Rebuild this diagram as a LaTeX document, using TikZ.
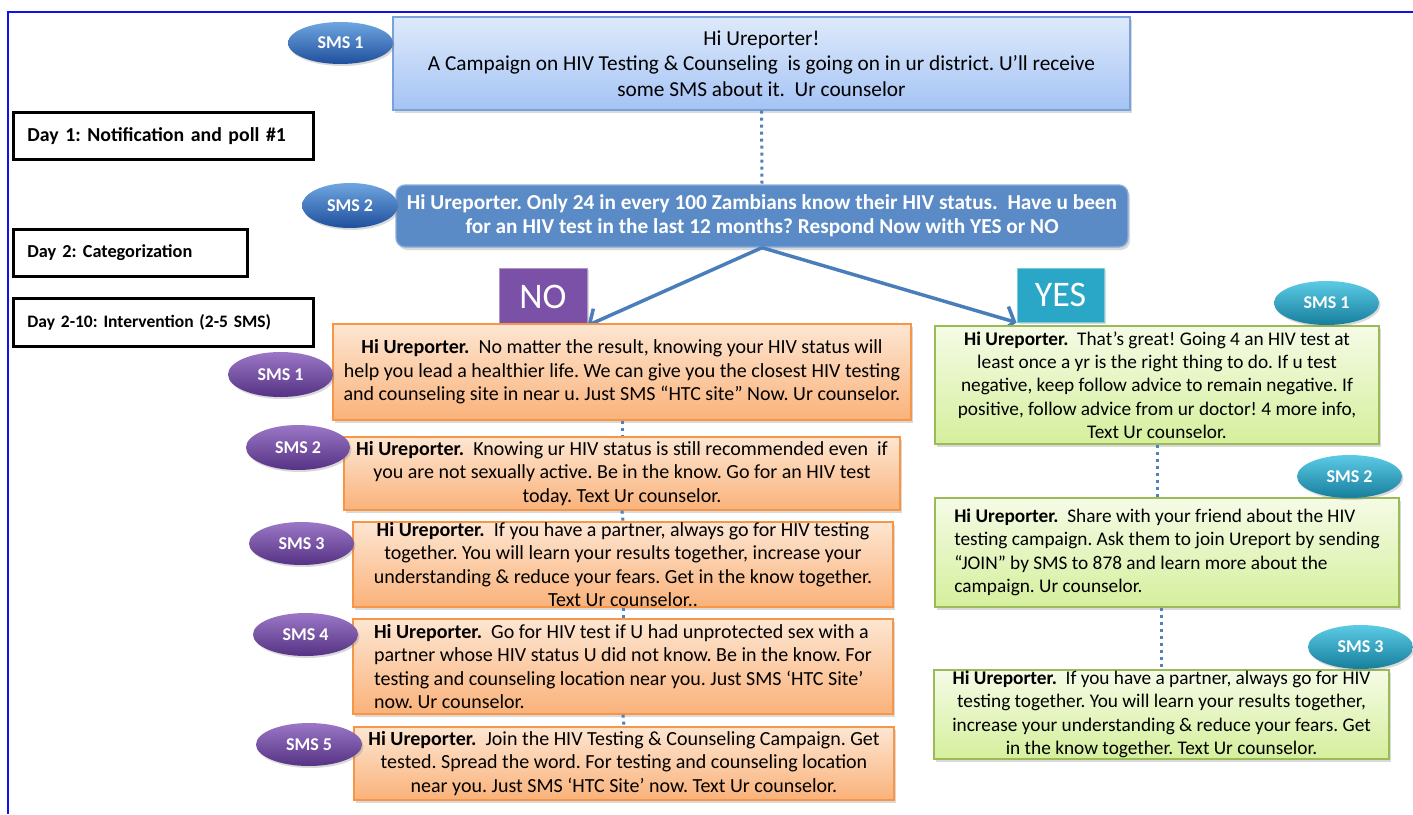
\documentclass[tikz,border=0pt]{standalone}
\usepackage{fontspec}
\setmainfont{Carlito}
\frenchspacing
\usetikzlibrary{shapes.geometric,shadows,arrows.meta}

\definecolor{framecol}{HTML}{1010F0}
\definecolor{introtop}{HTML}{DEEAFB}
\definecolor{introbot}{HTML}{A4C3F4}
\definecolor{introline}{HTML}{7AA2DA}
\definecolor{pollfill}{HTML}{5B8BC6}
\definecolor{pollline}{HTML}{8DAEDA}
\definecolor{orangetop}{HTML}{FDE6D2}
\definecolor{orangebot}{HTML}{FAB27A}
\definecolor{orangeline}{HTML}{F79646}
\definecolor{greentop}{HTML}{F5FBE6}
\definecolor{greenbot}{HTML}{D5EF9C}
\definecolor{greenline}{HTML}{9BBB59}
\definecolor{bluetop}{HTML}{6FA6E0}
\definecolor{bluebot}{HTML}{1F4F9C}
\definecolor{purpletop}{HTML}{9C77C8}
\definecolor{purplebot}{HTML}{553283}
\definecolor{tealtop}{HTML}{5CCBE6}
\definecolor{tealbot}{HTML}{167E9C}
\definecolor{nofill}{HTML}{7B51A7}
\definecolor{yesfill}{HTML}{2AA6C7}
\definecolor{arrowblue}{HTML}{4A7EBB}
\definecolor{dotblue}{HTML}{4F81BD}

\begin{document}
\begin{tikzpicture}[x=1pt,y=-1pt,
    smsbox/.style={draw, line width=1.3pt, inner sep=0pt, align=center,
      drop shadow={shadow xshift=2pt,shadow yshift=-3pt,opacity=0.3}},
    introbox/.style={smsbox, draw=introline, top color=introtop, bottom color=introbot,
      font=\fontsize{21.3}{25.5}\selectfont},
    pollbox/.style={smsbox, draw=pollline, fill=pollfill, rounded corners=9pt, text=white,
      font=\bfseries\fontsize{21.3}{24}\selectfont},
    orangebox/.style={smsbox, draw=orangeline, top color=orangetop, bottom color=orangebot,
      font=\fontsize{20}{23.5}\selectfont},
    greenbox/.style={smsbox, draw=greenline, top color=greentop, bottom color=greenbot,
      font=\fontsize{19.3}{23.3}\selectfont},
    smsoval/.style={ellipse, inner sep=0pt, text=white,
      font=\bfseries\fontsize{18}{18}\selectfont,
      drop shadow={shadow xshift=1.5pt,shadow yshift=-2pt,opacity=0.3}},
    blueoval/.style={smsoval, top color=bluetop, bottom color=bluebot},
    purpleoval/.style={smsoval, top color=purpletop, bottom color=purplebot},
    tealoval/.style={smsoval, top color=tealtop, bottom color=tealbot},
    daybox/.style={draw, line width=2.8pt, anchor=north west, inner xsep=13pt, inner ysep=0pt,
      align=left, font=\bfseries},
    answer/.style={inner sep=0pt, text=white, font=\fontsize{36}{36}\selectfont,
      drop shadow={shadow xshift=2pt,shadow yshift=-2pt,opacity=0.3}},
    dotline/.style={draw=dotblue, line width=3pt, dash pattern=on 3pt off 4pt},
    choice/.style={draw=arrowblue, line width=3.5pt,
      -{Straight Barb[length=10pt,width=26pt,line width=3.5pt]}}
  ]
  \useasboundingbox (0,0) rectangle (1413,814);

  % frame
  \draw[framecol, line width=1.4pt] (7,12) -- (1413,12);
  \draw[framecol, line width=1.4pt] (8,12) -- (8,814);

  % day labels
  \node[daybox, minimum width=300pt, minimum height=47pt, text width=272pt,
        font=\bfseries\fontsize{19.8}{19.8}\selectfont] (day1) at (12,111)
        {Day 1: Notification and poll \#1};
  \node[daybox, minimum width=234pt, minimum height=47pt, text width=206pt,
        font=\bfseries\fontsize{18.3}{18.3}\selectfont] (day2) at (12,228)
        {Day 2: Categorization};
  \node[daybox, minimum width=300pt, minimum height=48pt, text width=272pt,
        font=\bfseries\fontsize{17.5}{17.5}\selectfont] (day3) at (12,297)
        {Day 2-10: Intervention (2-5 SMS)};

  % day 1 and 2 messages
  \node[introbox, minimum width=737pt, minimum height=93pt] (intro) at (761.5,63.5)
    {Hi Ureporter!\\A Campaign on HIV Testing \& Counseling\ \ is going on in ur district. U’ll receive\\some SMS about it.\ \ Ur counselor};
  \node[pollbox, minimum width=732pt, minimum height=62pt] (poll) at (762,216)
    {Hi Ureporter. Only 24 in every 100 Zambians know their HIV status.\ \ Have u been\\for an HIV test in the last 12 months? Respond Now with YES or NO};
  \draw[dotline] (intro.south) -- (poll.north);

  % answers
  \node[answer, fill=nofill, draw=nofill!60!white, line width=1pt,
        minimum width=88pt, minimum height=57pt] (no) at (543,296.5) {NO};
  \node[answer, fill=yesfill, draw=yesfill!60!white, line width=1pt,
        minimum width=87pt, minimum height=54pt] (yes) at (1060.5,295) {YES};
  \draw[choice] (poll.south) -- (no.south east);
  \draw[choice] (poll.south) -- (yes.south west);

  % NO branch
  \node[orangebox, minimum width=578pt, minimum height=96pt] (no1) at (622,372)
    {\textbf{Hi Ureporter.}\ \ No matter the result, knowing your HIV status will\\help you lead a healthier life. We can give you the closest HIV testing\\and counseling site in near u. Just SMS “HTC site” Now. Ur counselor.};
  \node[orangebox, minimum width=556pt, minimum height=73pt] (no2) at (622,473.5)
    {\textbf{Hi Ureporter.}\ \ Knowing ur HIV status is still recommended even\ \ if\\you are not sexually active. Be in the know. Go for an HIV test\\today. Text Ur counselor.};
  \node[orangebox, minimum width=540pt, minimum height=85pt] (no3) at (623,564.5)
    {\textbf{Hi Ureporter.}\ \ If you have a partner, always go for HIV testing\\together. You will learn your results together, increase your\\understanding \& reduce your fears. Get in the know together.\\Text Ur counselor..};
  \node[orangebox, align=left, minimum width=540pt, minimum height=95pt] (no4) at (623,666.5)
    {\textbf{Hi Ureporter.}\ \ Go for HIV test if U had unprotected sex with a\\partner whose HIV status U did not know. Be in the know. For\\testing and counseling location near you. Just SMS ‘HTC Site’\\now. Ur counselor.};
  \node[orangebox, minimum width=540pt, minimum height=73pt] (no5) at (624,763.5)
    {\textbf{Hi Ureporter.}\ \ Join the HIV Testing \& Counseling Campaign. Get\\tested. Spread the word. For testing and counseling location\\near you. Just SMS ‘HTC Site’ now. Text Ur counselor.};
  \draw[dotline] (no1.south) -- (no2.north);
  \draw[dotline] (no2.south) -- (no3.north);
  \draw[dotline] (no3.south) -- (no4.north);
  \draw[dotline] (no4.south) -- (no5.north);

  % YES branch
  \node[greenbox, minimum width=444pt, minimum height=118pt] (yes1) at (1157,385)
    {\textbf{Hi Ureporter.}\ \ That’s great! Going 4 an HIV test at\\least once a yr is the right thing to do. If u test\\negative, keep follow advice to remain negative. If\\positive, follow advice from ur doctor! 4 more info,\\Text Ur counselor.};
  \node[greenbox, align=left, minimum width=464pt, minimum height=109pt] (yes2) at (1167,552.5)
    {\textbf{Hi Ureporter.}\ \ Share with your friend about the HIV\\testing campaign. Ask them to join Ureport by sending\\“JOIN” by SMS to 878 and learn more about the\\campaign. Ur counselor.};
  \node[greenbox, minimum width=455pt, minimum height=89pt] (yes3) at (1161.5,714.5)
    {\textbf{Hi Ureporter.}\ \ If you have a partner, always go for HIV\\testing together. You will learn your results together,\\increase your understanding \& reduce your fears. Get\\in the know together. Text Ur counselor.};
  \draw[dotline] (yes1.south) -- (yes1.south |- yes2.north);
  \draw[dotline] (yes3.north |- yes2.south) -- (yes3.north);

  % SMS ovals
  \node[blueoval, minimum width=105pt, minimum height=42pt] (b1) at (340.5,43) {SMS 1};
  \node[blueoval, minimum width=96pt, minimum height=45pt] (b2) at (350,205.5) {SMS 2};
  \node[purpleoval, minimum width=105pt, minimum height=45pt] (p1) at (280.5,374.5) {SMS 1};
  \node[purpleoval, minimum width=104pt, minimum height=45pt] (p2) at (298,447.5) {SMS 2};
  \node[purpleoval, minimum width=105pt, minimum height=43pt] (p3) at (301.5,543.5) {SMS 3};
  \node[purpleoval, minimum width=105pt, minimum height=43pt] (p4) at (305.5,634.5) {SMS 4};
  \node[purpleoval, minimum width=106pt, minimum height=43pt] (p5) at (309,744.5) {SMS 5};
  \node[tealoval, minimum width=105pt, minimum height=44pt] (t1) at (1326.5,303) {SMS 1};
  \node[tealoval, minimum width=105pt, minimum height=43pt] (t2) at (1349.5,476.5) {SMS 2};
  \node[tealoval, minimum width=105pt, minimum height=44pt] (t3) at (1360.5,647) {SMS 3};
\end{tikzpicture}
\end{document}
